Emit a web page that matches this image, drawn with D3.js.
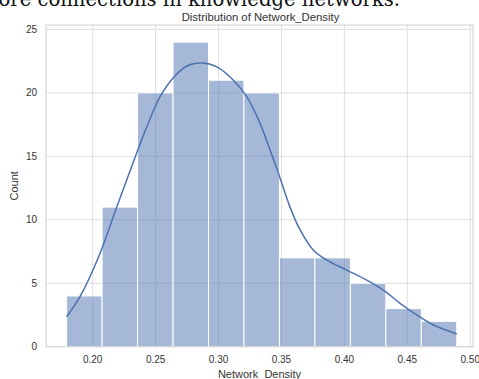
<!DOCTYPE html>
<html><head><meta charset="utf-8">
<script src="https://cdn.jsdelivr.net/npm/d3@7"></script>
<style>body{margin:0;background:#fff;overflow:hidden}svg{display:block}</style>
</head><body>
<script>
const binStart = 0.1793;
const binEnd = 0.4893;
const binCounts = [4, 11, 20, 24, 21, 20, 7, 7, 5, 3, 2];
const xTicks = [0.20, 0.25, 0.30, 0.35, 0.40, 0.45, 0.50];
const yTicks = [0, 5, 10, 15, 20, 25];
const kdeX = [0.1793, 0.1899, 0.2058, 0.2191, 0.2310, 0.2429, 0.2535, 0.2641, 0.2747, 0.2866, 0.2986, 0.3118, 0.3224, 0.3330, 0.3409, 0.3463, 0.3568, 0.3648, 0.3754, 0.3860, 0.4019, 0.4178, 0.4310, 0.4443, 0.4575, 0.4708, 0.4893];
const kdeY = [2.36, 3.94, 7.35, 11.0, 14.2, 17.3, 19.7, 21.2, 22.1, 22.35, 22.05, 21.0, 19.7, 17.6, 15.5, 14.05, 11.0, 9.2, 7.6, 6.83, 6.04, 5.25, 4.46, 3.42, 2.5, 1.71, 1.0];
const titleText = "Distribution of Network_Density";
const xLabel = "Network_Density";
const yLabel = "Count";
const topText = "more connections in knowledge networks.";

const W = 479, H = 379;
const L = 46, R = 473, T = 25, B = 346.7;
const svg = d3.select("body").append("svg").attr("width", W).attr("height", H);

const x = d3.scaleLinear().domain([0.1629, 0.5022]).range([L, R]);
const y = d3.scaleLinear().domain([0, 25.35]).range([B, T]);

const font = "'Liberation Sans', Arial, sans-serif";
const grid = "#dedede";

// top cropped text
svg.append("text").attr("x", 400).attr("y", 6).attr("text-anchor", "end")
  .attr("font-family", "'DejaVu Serif', serif").attr("font-size", 19.6).attr("fill", "#111")
  .text(topText);

// grid
svg.append("g").selectAll("line.v").data(xTicks).join("line")
  .attr("x1", d => x(d)).attr("x2", d => x(d)).attr("y1", T).attr("y2", B)
  .attr("stroke", grid).attr("stroke-width", 1);
svg.append("g").selectAll("line.h").data(yTicks).join("line")
  .attr("x1", L).attr("x2", R).attr("y1", d => y(d)).attr("y2", d => y(d))
  .attr("stroke", grid).attr("stroke-width", 1);

// bars
const bw = (binEnd - binStart) / binCounts.length;
svg.append("g").selectAll("rect").data(binCounts).join("rect")
  .attr("x", (d, i) => x(binStart + i * bw))
  .attr("width", (d, i) => x(binStart + (i + 1) * bw) - x(binStart + i * bw))
  .attr("y", d => y(d)).attr("height", d => B - y(d))
  .attr("fill", "#4c72b0").attr("fill-opacity", 0.5)
  .attr("stroke", "#fff").attr("stroke-width", 1);

// kde
const line = d3.line().x(d => x(d[0])).y(d => y(d[1])).curve(d3.curveCatmullRom);
svg.append("path").datum(kdeX.map((v, i) => [v, kdeY[i]])).attr("d", line)
  .attr("fill", "none").attr("stroke", "#4c72b0").attr("stroke-width", 1.5);

// spines
svg.append("rect").attr("x", L).attr("y", T).attr("width", R - L).attr("height", B - T)
  .attr("fill", "none").attr("stroke", "#d0d0d0").attr("stroke-width", 1);

// tick labels
svg.append("g").selectAll("text").data(xTicks).join("text")
  .attr("x", d => x(d)).attr("y", 363).attr("text-anchor", "middle")
  .attr("font-family", font).attr("font-size", 10).attr("fill", "#333")
  .text(d => d3.format(".2f")(d));
svg.append("g").selectAll("text").data(yTicks).join("text")
  .attr("x", 37).attr("y", d => y(d) + 3.5).attr("text-anchor", "end")
  .attr("font-family", font).attr("font-size", 10).attr("fill", "#333")
  .text(d => d);

// labels
svg.append("text").attr("x", (L + R) / 2 + 1).attr("y", 20.5).attr("text-anchor", "middle")
  .attr("font-family", font).attr("font-size", 11.3).attr("fill", "#333").text(titleText);
svg.append("text").attr("x", (L + R) / 2).attr("y", 377.5).attr("text-anchor", "middle")
  .attr("font-family", font).attr("font-size", 11).attr("fill", "#333").text(xLabel);
svg.append("text").attr("transform", `translate(18,${(T + B) / 2}) rotate(-90)`)
  .attr("text-anchor", "middle")
  .attr("font-family", font).attr("font-size", 11).attr("fill", "#333").text(yLabel);
</script>
</body></html>
